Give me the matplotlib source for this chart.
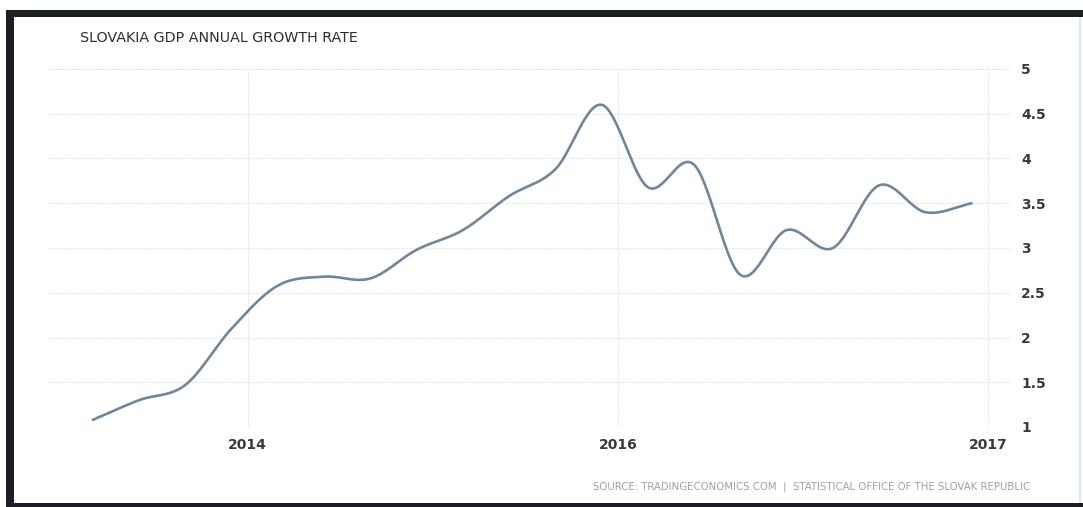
import numpy as np
import matplotlib.pyplot as plt
from matplotlib.patches import Rectangle

# quarterly readings
growth = [1.08, 1.30, 1.47, 2.10, 2.58, 2.68, 2.66, 2.98, 3.20, 3.58,
          3.88, 4.60, 3.68, 3.93, 2.70, 3.20, 3.00, 3.70, 3.40, 3.50]
quarter = np.arange(len(growth))

tick_pos = [3.35, 11.35, 19.35]
tick_labels = ["2014", "2016", "2017"]
y_ticks = [1, 1.5, 2, 2.5, 3, 3.5, 4, 4.5, 5]


def catmull_rom(x, y, n=30):
    # smooth curve through every point, like the original web chart
    x = np.asarray(x, float)
    y = np.asarray(y, float)
    px = np.concatenate([[2 * x[0] - x[1]], x, [2 * x[-1] - x[-2]]])
    py = np.concatenate([[2 * y[0] - y[1]], y, [2 * y[-1] - y[-2]]])
    xs, ys = [], []
    t = np.linspace(0, 1, n, endpoint=False)
    for i in range(1, len(px) - 2):
        for p, out in ((px, xs), (py, ys)):
            p0, p1, p2, p3 = p[i - 1], p[i], p[i + 1], p[i + 2]
            out.append(0.5 * (2 * p1 + (-p0 + p2) * t
                              + (2 * p0 - 5 * p1 + 4 * p2 - p3) * t ** 2
                              + (-p0 + 3 * p1 - 3 * p2 + p3) * t ** 3))
    xs.append([x[-1]])
    ys.append([y[-1]])
    return np.concatenate(xs), np.concatenate(ys)


W, H = 1083, 507
fig = plt.figure(figsize=(W / 100, H / 100), dpi=100)
fig.patch.set_facecolor("white")

# dark frame of the screenshot (top, left, bottom) and faint right edge
for x0, y0, w, h, c in [(6, 10, W - 6, 7, "#1c1f24"),
                        (6, 10, 8, H - 10, "#1c1f24"),
                        (6, 503, W - 6, 4, "#1c1f24"),
                        (1079, 17, 1.5, 486, "#dce6f0")]:
    fig.add_artist(Rectangle((x0 / W, 1 - (y0 + h) / H), w / W, h / H,
                             transform=fig.transFigure, color=c, lw=0))

ax = fig.add_axes([48 / W, 1 - 427 / H, (1010 - 48) / W, (427 - 69) / H])
xs, ys = catmull_rom(quarter, growth)
ax.plot(xs, ys, color="#71869b", lw=1.9, solid_capstyle="round")

ax.set_xlim(-0.97, 19.83)
ax.set_ylim(1, 5)
ax.set_xticks(tick_pos)
ax.set_xticklabels(tick_labels)
ax.set_yticks(y_ticks)
ax.set_yticklabels([f"{v:g}" for v in y_ticks])
ax.yaxis.tick_right()
ax.tick_params(length=0, labelsize=10, labelcolor="#3a3a3a")
ax.tick_params(axis="y", pad=8)
ax.tick_params(axis="x", pad=8)
for lab in ax.get_xticklabels() + ax.get_yticklabels():
    lab.set_fontweight("semibold")
ax.grid(True, color="#e3e8ef", lw=0.8, ls=(0, (2, 1)))
for s in ax.spines.values():
    s.set_visible(False)

fig.text(80 / W, 1 - 38 / H, "SLOVAKIA GDP ANNUAL GROWTH RATE",
         fontsize=10.3, color="#2e2e2e", va="center", ha="left")
fig.text(1030 / W, 1 - 487 / H,
         "SOURCE: TRADINGECONOMICS.COM  |  STATISTICAL OFFICE OF THE SLOVAK REPUBLIC",
         fontsize=7.3, color="#a0a0a0", va="center", ha="right")

fig.savefig("out.png", dpi=100)
